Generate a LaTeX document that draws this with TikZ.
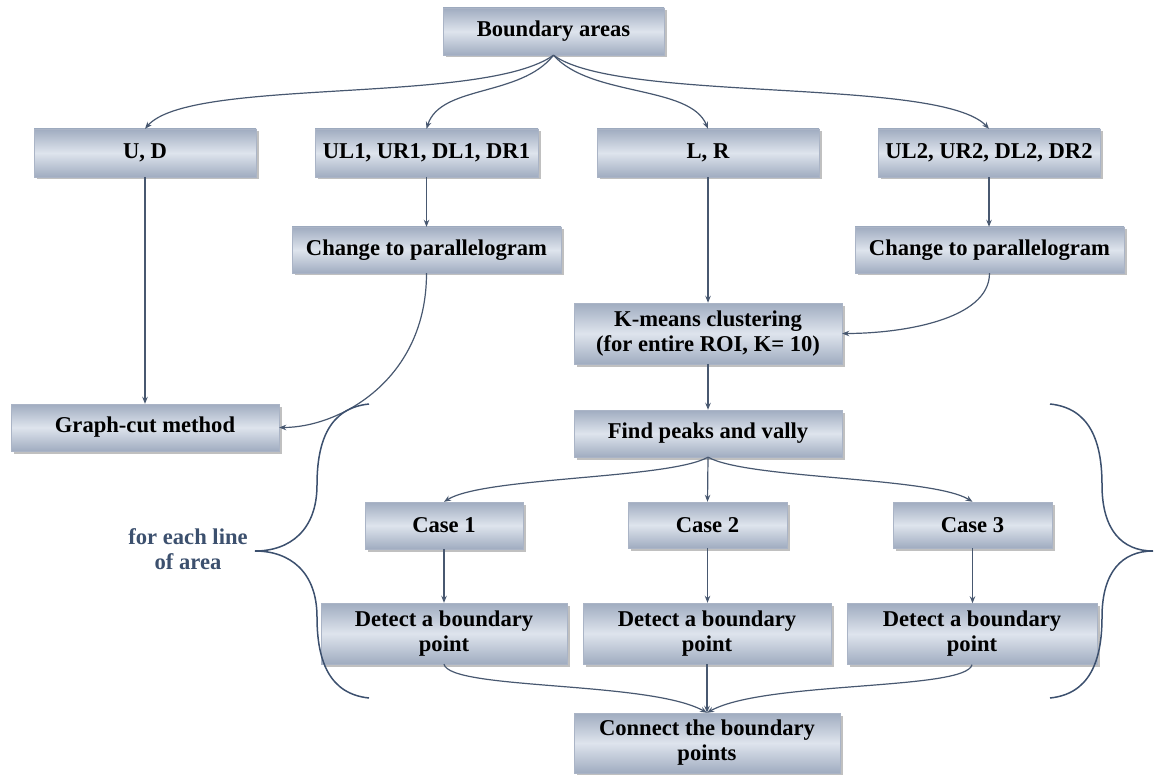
\documentclass[tikz,border=0pt]{standalone}
\usepackage{fontspec}
\setmainfont{Liberation Serif}
\usetikzlibrary{shadows,arrows.meta}
\definecolor{boxdark}{RGB}{160,172,192}
\definecolor{boxlight}{RGB}{222,228,237}
\definecolor{linec}{RGB}{72,88,112}
\definecolor{bracec}{RGB}{60,80,110}
\tikzset{
  flowbox/.style={rectangle, inner sep=0pt, align=center,
    top color=boxdark, bottom color=boxdark, middle color=boxlight,
    draw=boxdark!90!white, line width=0.4pt,
    drop shadow={shadow xshift=2.5pt, shadow yshift=-2.5pt, opacity=0.45, fill=black!55},
    font=\fontsize{22.6}{25}\selectfont\bfseries},
  conn/.style={draw=linec, line width=1.2pt, -{Stealth[length=7pt,width=5.5pt]}},
  bracepath/.style={draw=bracec, line width=1.5pt},
}
\begin{document}
\begin{tikzpicture}[x=1pt,y=-1pt]
\useasboundingbox (0,0) rectangle (1155,775);
% nodes
\node[flowbox, minimum width=221pt, minimum height=47pt] (ba) at (553.5,31.5) {Boundary areas};
\node[flowbox, minimum width=222pt, minimum height=48pt] (ud) at (145,153) {U, D};
\node[flowbox, minimum width=223pt, minimum height=48pt] (ul1) at (426.5,153) {UL1, UR1, DL1, DR1};
\node[flowbox, minimum width=222pt, minimum height=48pt] (lr) at (708,153) {L, R};
\node[flowbox, minimum width=222pt, minimum height=48pt] (ul2) at (989,153) {UL2, UR2, DL2, DR2};
\node[flowbox, minimum width=269pt, minimum height=46pt] (ch1) at (426.5,250) {Change to parallelogram};
\node[flowbox, minimum width=269pt, minimum height=46pt] (ch2) at (989.5,250) {Change to parallelogram};
\node[flowbox, minimum width=268pt, minimum height=61pt] (km) at (708,333.5) {K-means clustering\\(for entire ROI, K= 10)};
\node[flowbox, minimum width=268pt, minimum height=47pt] (gc) at (145,427.5) {Graph-cut method};
\node[flowbox, minimum width=268pt, minimum height=47pt] (fp) at (708,433.5) {Find peaks and vally};
\node[flowbox, minimum width=158pt, minimum height=47pt] (c1) at (444,525.5) {Case 1};
\node[flowbox, minimum width=159pt, minimum height=46pt] (c2) at (707.5,525) {Case 2};
\node[flowbox, minimum width=159pt, minimum height=46pt] (c3) at (972.5,525) {Case 3};
\node[flowbox, minimum width=246pt, minimum height=61pt] (d1) at (444,633.5) {Detect a boundary\\point};
\node[flowbox, minimum width=248pt, minimum height=61pt] (d2) at (707,633.5) {Detect a boundary\\point};
\node[flowbox, minimum width=250pt, minimum height=61pt] (d3) at (972,634) {Detect a boundary\\point};
\node[flowbox, minimum width=266pt, minimum height=60pt] (cn) at (707,743) {Connect the boundary\\points};
\node[align=center, text=bracec, font=\fontsize{22.6}{25}\selectfont\bfseries] (lbl) at (188,549) {for each line\\of area};
% connectors from Boundary areas
\draw[conn] (ba.south) .. controls +(-70,50) and +(45,-52) .. (ud.north);
\draw[conn] (ba.south) .. controls +(-33,42) and +(14,-44) .. (ul1.north);
\draw[conn] (ba.south) .. controls +(37,42) and +(-18,-44) .. (lr.north);
\draw[conn] (ba.south) .. controls +(65,48) and +(-49,-52) .. (ul2.north);
% straight arrows
\draw[conn] (ud.south) -- (gc.north -| ud.south);
\draw[conn] (ul1.south) -- (ch1.north -| ul1.south);
\draw[conn] (ul2.south) -- (ch2.north -| ul2.south);
\draw[conn] (lr.south) -- (km.north -| lr.south);
\draw[conn] (km.south) -- (fp.north);
% curved arrows into Graph-cut and K-means
\draw[conn] (ch1.south) .. controls +(0,107) and +(60,0) .. (gc.east);
\draw[conn] (ch2.south) .. controls +(0,47) and +(58,0) .. (km.east);
% Find peaks fan
\draw[conn] (fp.south) .. controls +(-40,22) and +(40,-25) .. (c1.north);
\draw[conn] (fp.south) -- (c2.north);
\draw[conn] (fp.south) .. controls +(40,22) and +(-40,-25) .. (c3.north);
% case to detect
\draw[conn] (c1.south) -- (d1.north);
\draw[conn] (c2.south) -- (d2.north -| c2.south);
\draw[conn] (c3.south) -- (d3.north -| c3.south);
% detect to connect
\draw[conn] (d1.south) .. controls +(6,26) and +(-57,-32) .. (cn.north);
\draw[conn] (d2.south) -- (cn.north);
\draw[conn] (d3.south) .. controls +(-6,26) and +(57,-32) .. (cn.north);
% braces
\draw[bracepath] (369,404) .. controls (330,408) and (317,440) .. (317,485)
  .. controls (317,530) and (290,551) .. (255,551)
  .. controls (290,551) and (317,572) .. (317,617)
  .. controls (317,662) and (330,694) .. (369,698);
\draw[bracepath] (1050,404) .. controls (1089,408) and (1102,440) .. (1102,485)
  .. controls (1102,530) and (1122,551) .. (1153,551)
  .. controls (1122,551) and (1102,572) .. (1102,617)
  .. controls (1102,662) and (1089,694) .. (1050,698);
\end{tikzpicture}
\end{document}
